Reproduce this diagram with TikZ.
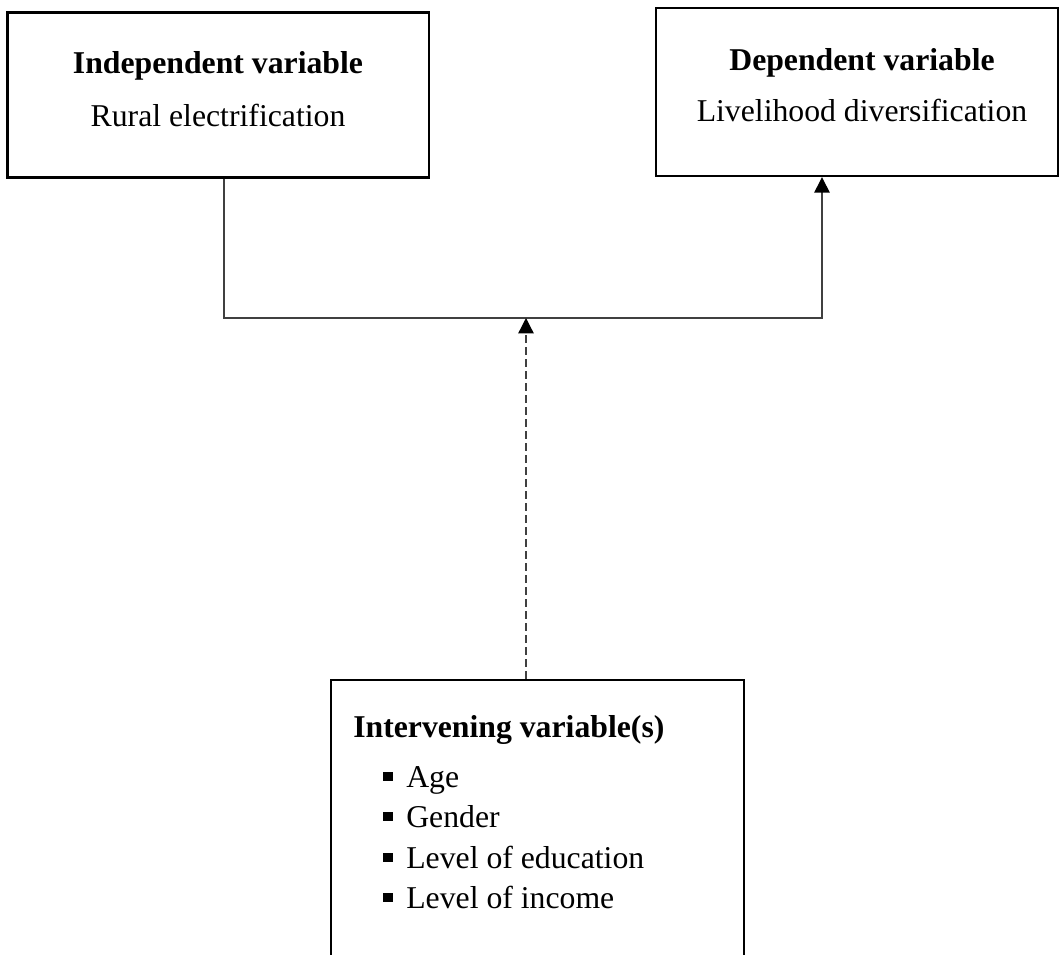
\documentclass[tikz,border=0pt]{standalone}
\usepackage{fontspec}
\setmainfont{Liberation Serif}
\usetikzlibrary{arrows.meta,fit}
\newcommand\sqbullet{\raisebox{4.5pt}{\rule{7pt}{7pt}}\hspace{10.3pt}}
\begin{document}
\begin{tikzpicture}[x=0.75pt,y=-0.75pt,
  box/.style={draw=black,line width=1.8pt,inner sep=0pt},
  txt/.style={inner sep=0pt,font=\fontsize{23.8pt}{28pt}\selectfont},
  ttl/.style={inner sep=0pt,font=\fontsize{23.8pt}{28pt}\selectfont\bfseries},
  conn/.style={draw=black!75,line width=1pt},
  tip/.style={-{Triangle[length=11.5pt,width=11.5pt,color=black]}}]
\useasboundingbox (0,0) rectangle (1061,954);
\clip (0,0) rectangle (1061,954);
% boxes
\node[box,fit={(7.5,12.5)(429,177.5)}] (L) {};
\node[box,fit={(656,8)(1058,176)}] (R) {};
\node[box,fit={(331,680)(744,1010)}] (B) {};
% texts
\node[ttl,anchor=base] (Lt) at (218,73) {Independent variable};
\node[txt,anchor=base] (Ls) at (218,126) {Rural electrification};
\node[ttl,anchor=base] (Rt) at (862,70) {Dependent variable};
\node[txt,anchor=base] (Rs) at (862,121) {Livelihood diversification};
\node[ttl,anchor=base west] (Bt) at (353,737) {Intervening variable(s)};
\node[txt,anchor=base west] (i1) at (383,787) {\sqbullet Age};
\node[txt,anchor=base west] (i2) at (383,827) {\sqbullet Gender};
\node[txt,anchor=base west] (i3) at (383,868) {\sqbullet Level of education};
\node[txt,anchor=base west] (i4) at (383,908) {\sqbullet Level of income};
% connectors
\coordinate (j) at (526,318);
\coordinate (xl) at (224,0);
\coordinate (xr) at (822,0);
\draw[conn,tip] (L.south -| xl) |- (j) -| (R.south -| xr);
\draw[conn,tip,dash pattern=on 6pt off 3pt] (B.north -| j) -- (j);
\end{tikzpicture}
\end{document}
